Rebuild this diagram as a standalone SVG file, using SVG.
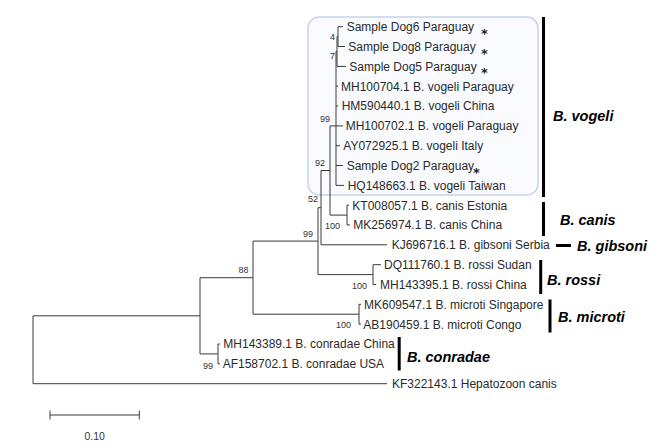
<svg xmlns="http://www.w3.org/2000/svg" width="661" height="445" viewBox="0 0 661 445">
<style>
.leaf{font-family:"Liberation Sans",Arial,sans-serif;font-size:12px;fill:#2a2a2a}
.star{font-family:"DejaVu Sans",sans-serif;font-size:13px;font-weight:bold;fill:#222}
.bs{font-family:"Liberation Sans",Arial,sans-serif;font-size:9px;fill:#333;text-anchor:end}
.clade{font-family:"Liberation Sans",Arial,sans-serif;font-size:14.5px;font-weight:bold;font-style:italic;fill:#000}
.br{fill:none;stroke:#3a3a3a;stroke-width:1}
.bar{stroke:#000;stroke-width:3;fill:none}
</style>
<rect width="661" height="445" fill="#fff"/>
<rect id="vogeli-box" x="308" y="17" width="230" height="178" rx="11" ry="11" fill="#f9fbfe" stroke="#c6d4e8" stroke-width="1.5"/>
<g id="connectors" class="br">
<path d="M33 315.8V383.7M33 315.8H200M33 383.7H387"/>
<path d="M200 277.7V353.9M200 277.7H253M200 353.9H218"/>
<path d="M218 344V363.8M218 344H220M218 363.8H220"/>
<path d="M253 241.1V314.2M253 241.1H318M253 314.2H359"/>
<path d="M359 304.3V324.2M359 304.3H361M359 324.2H361"/>
<path d="M318 207.7V274.6M318 207.7H321M318 274.6H373"/>
<path d="M373 264.7V284.5M373 264.7H381M373 284.5H376"/>
<path d="M321 170.5V244.8M321 170.5H330M321 244.8H387"/>
<path d="M330 125.9V215.1M330 125.9H336M330 215.1H347"/>
<path d="M347 205.2V225M347 205.2H349M347 225H350"/>
<path d="M336 51.5V185.4M336 51.5H337M336 86.2H338M336 106H338M336 125.9H343M336 145.7H340M336 165.5H343M336 185.4H344"/>
<path d="M337 36.6V66.4M337 36.6H338M337 66.4H346"/>
<path d="M338 26.7V46.5M338 26.7H343M338 46.5H345"/>
<path d="M50 415H139.3M50 410.5V419.5M139.3 410.5V419.5"/>
</g>
<g id="leaf-dog6"><text class="leaf" x="346.7" y="31">Sample Dog6 Paraguay</text><text class="star" x="481" y="38">*</text></g>
<g id="leaf-dog8"><text class="leaf" x="348.3" y="50.8">Sample Dog8 Paraguay</text><text class="star" x="481" y="57.5">*</text></g>
<g id="leaf-dog5"><text class="leaf" x="349.3" y="70.7">Sample Dog5 Paraguay</text><text class="star" x="481" y="77">*</text></g>
<g id="leaf-mh100704"><text class="leaf" x="341" y="90.5">MH100704.1 B. vogeli Paraguay</text></g>
<g id="leaf-hm590440"><text class="leaf" x="341.7" y="110.3">HM590440.1 B. vogeli China</text></g>
<g id="leaf-mh100702"><text class="leaf" x="345.7" y="130.2">MH100702.1 B. vogeli Paraguay</text></g>
<g id="leaf-ay072925"><text class="leaf" x="343.3" y="150">AY072925.1 B. vogeli Italy</text></g>
<g id="leaf-dog2"><text class="leaf" x="346.7" y="170">Sample Dog2 Paraguay</text><text class="star" x="473" y="176.5">*</text></g>
<g id="leaf-hq148663"><text class="leaf" x="347.7" y="189.7">HQ148663.1 B. vogeli Taiwan</text></g>
<g id="leaf-kt008057"><text class="leaf" x="352.3" y="209.5">KT008057.1 B. canis Estonia</text></g>
<g id="leaf-mk256974"><text class="leaf" x="353.3" y="229.3">MK256974.1 B. canis China</text></g>
<g id="leaf-kj696716"><text class="leaf" x="391.7" y="249.1">KJ696716.1 B. gibsoni Serbia</text></g>
<g id="leaf-dq111760"><text class="leaf" x="384" y="269">DQ111760.1 B. rossi Sudan</text></g>
<g id="leaf-mh143395"><text class="leaf" x="380" y="288.8">MH143395.1 B. rossi China</text></g>
<g id="leaf-mk609547"><text class="leaf" x="364" y="308.6">MK609547.1 B. microti Singapore</text></g>
<g id="leaf-ab190459"><text class="leaf" x="363.3" y="328.5">AB190459.1 B. microti Congo</text></g>
<g id="leaf-mh143389"><text class="leaf" x="223.3" y="348.3">MH143389.1 B. conradae China</text></g>
<g id="leaf-af158702"><text class="leaf" x="222.7" y="368.1">AF158702.1 B. conradae USA</text></g>
<g id="leaf-kf322143"><text class="leaf" x="392" y="388">KF322143.1 Hepatozoon canis</text></g>
<g id="bootstrap">
<text class="bs" x="335" y="40">4</text>
<text class="bs" x="335" y="59">7</text>
<text class="bs" x="330" y="121.5">99</text>
<text class="bs" x="325" y="166">92</text>
<text class="bs" x="318" y="201.5">52</text>
<text class="bs" x="313" y="236.5">99</text>
<text class="bs" x="340" y="229">100</text>
<text class="bs" x="367" y="288.5">100</text>
<text class="bs" x="248.5" y="272.5">88</text>
<text class="bs" x="351" y="327.5">100</text>
<text class="bs" x="213" y="368.5">99</text>
</g>
<g id="clade-vogeli"><path class="bar" d="M543.5 17V197"/><text class="clade" x="553" y="121">B. vogeli</text></g>
<g id="clade-canis"><path class="bar" d="M543.5 202V236"/><text class="clade" x="560" y="224.5">B. canis</text></g>
<g id="clade-gibsoni"><path class="bar" d="M556 245.5H571"/><text class="clade" x="577" y="251">B. gibsoni</text></g>
<g id="clade-rossi"><path class="bar" d="M540.7 260V294"/><text class="clade" x="547" y="285">B. rossi</text></g>
<g id="clade-microti"><path class="bar" d="M550 299.5V332.5"/><text class="clade" x="558" y="321.7">B. microti</text></g>
<g id="clade-conradae"><path class="bar" d="M399.2 337V370.5"/><text class="clade" x="407" y="361.7">B. conradae</text></g>
<g id="scale"><text x="94.7" y="439.5" text-anchor="middle" font-family="Liberation Sans, Arial, sans-serif" font-size="10.5" fill="#333">0.10</text></g>
</svg>
